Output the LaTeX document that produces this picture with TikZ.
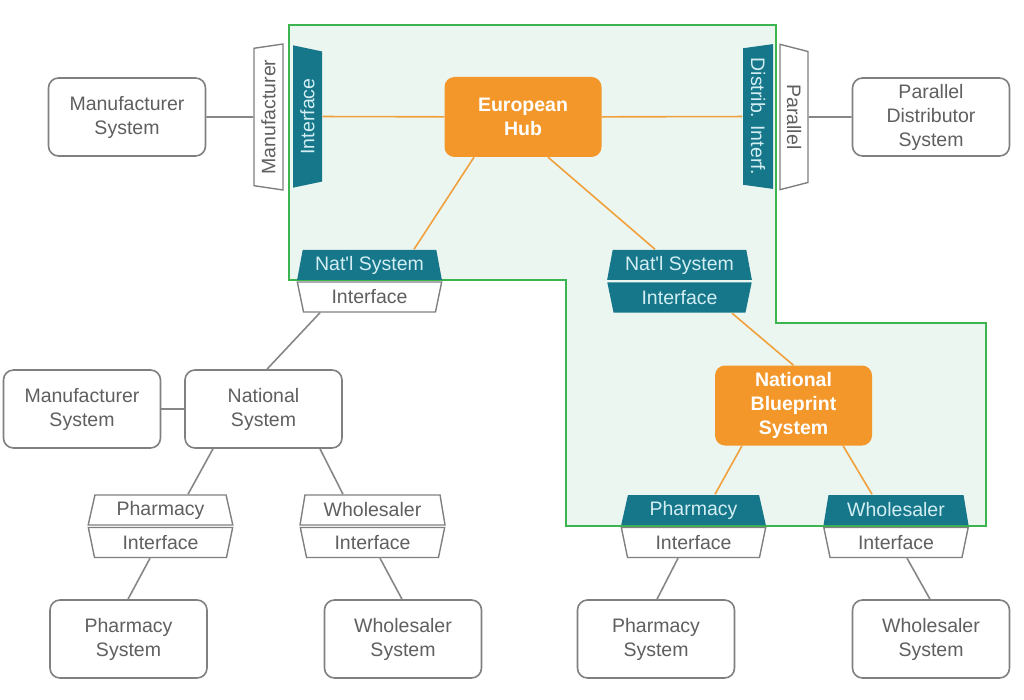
\documentclass[tikz,border=0pt]{standalone}
\usepackage{fontspec}
\setmainfont{Liberation Sans}
\usetikzlibrary{shapes.geometric}
\definecolor{boxgray}{RGB}{128,128,128}
\definecolor{txtgray}{RGB}{95,95,95}
\definecolor{linegray}{RGB}{135,135,135}
\definecolor{hubor}{RGB}{243,151,42}
\definecolor{lineor}{RGB}{240,160,60}
\definecolor{tealplug}{RGB}{22,118,138}
\definecolor{tealtext}{RGB}{210,238,242}
\definecolor{zonegreen}{RGB}{60,180,80}
\definecolor{zonefill}{RGB}{236,246,240}

\begin{document}
\begin{tikzpicture}[x=1pt, y=-1pt, every node/.style={align=center, font=\fontsize{19.5}{24}\selectfont},
  sys/.style={draw=boxgray, line width=1.6pt, rounded corners=10pt, fill=white, text=txtgray, minimum width=157pt, minimum height=78pt},
  hubbox/.style={fill=hubor, rounded corners=10pt, text=white, font=\fontsize{19.5}{24}\selectfont\bfseries, minimum width=157pt, minimum height=80pt},
  plug/.style={trapezium, trapezium stretches=true, trapezium angle=76, minimum width=145pt, minimum height=30pt, inner sep=0pt, line width=1.4pt},
  wplug/.style={plug, draw=boxgray, fill=white, text=txtgray},
  tplug/.style={plug, fill=tealplug, text=tealtext},
  flipped/.style={shape border rotate=180},
  gl/.style={draw=linegray, line width=1.6pt},
  ol/.style={draw=lineor, line width=1.6pt}]
  \useasboundingbox (0,0) rectangle (1024,700);
  \draw[zonegreen, line width=1.8pt, fill=zonefill] (289,25) -- (776,25) -- (776,323) -- (986,323) -- (986,526) -- (566,526) -- (566,280) -- (289,280) -- cycle;

  \node[sys] (mfr) at (127,117) {Manufacturer\\System};
  \node[wplug, rotate=90, minimum width=146pt, minimum height=29pt] (mfrp) at (268.5,117) {Manufacturer};
  \node[tplug, flipped, rotate=90, minimum width=143pt, minimum height=29pt] (mfri) at (307.5,116.5) {Interface};
  \node[hubbox] (hub) at (523,117) {European\\Hub};
  \node[tplug, flipped, rotate=-90, minimum width=145pt, minimum height=30pt] (pdi) at (758,116.5) {Distrib. Interf.};
  \node[wplug, rotate=-90, minimum width=146pt, minimum height=28pt] (pdp) at (794,117) {Parallel};
  \node[sys] (pds) at (931,117) {Parallel\\Distributor\\System};

  \node[tplug] (natl) at (369.5,265) {Nat\textquotesingle l System};
  \node[wplug, flipped] (natli) at (369.5,297) {Interface};
  \node[tplug] (natr) at (679.5,265) {Nat\textquotesingle l System};
  \node[tplug, flipped] (natri) at (679.5,297.5) {Interface};

  \node[sys] (mfr2) at (82,409) {Manufacturer\\System};
  \node[sys] (nat) at (263.5,409) {National\\System};
  \node[hubbox, minimum height=80pt] (nbs) at (793.5,405.5) {National\\Blueprint\\System};

  \node[wplug] (ph1) at (160.5,510) {Pharmacy};
  \node[wplug, flipped] (ph1i) at (160.5,542.5) {Interface};
  \node[wplug] (wh1) at (372.5,510) {Wholesaler};
  \node[wplug, flipped] (wh1i) at (372.5,542.5) {Interface};
  \node[tplug] (ph2) at (693.5,510) {Pharmacy};
  \node[wplug, flipped] (ph2i) at (693.5,542.5) {Interface};
  \node[tplug] (wh2) at (896,510) {Wholesaler};
  \node[wplug, flipped] (wh2i) at (896,542.5) {Interface};

  \node[sys] (phs1) at (128.5,639) {Pharmacy\\System};
  \node[sys] (whs1) at (403,639) {Wholesaler\\System};
  \node[sys] (phs2) at (656,639) {Pharmacy\\System};
  \node[sys] (whs2) at (931,639) {Wholesaler\\System};

  \draw[gl] (mfr) -- (mfrp);
  \draw[ol] (mfri) -- (hub);
  \draw[ol] (hub) -- (pdi);
  \draw[gl] (pdp) -- (pds);
  \draw[ol] ([xshift=-49pt]hub.south) -- ([xshift=44.5pt]natl.north);
  \draw[ol] ([xshift=25pt]hub.south) -- ([xshift=-24.5pt]natr.north);
  \draw[ol] ([xshift=52.5pt]natri.south) -- (nbs.north);
  \draw[ol] ([xshift=-51.5pt]nbs.south) -- ([xshift=21.5pt]ph2.north);
  \draw[ol] ([xshift=49.5pt]nbs.south) -- ([xshift=-24pt]wh2.north);
  \draw[gl] ([xshift=-15.5pt]ph2i.south) -- ([xshift=1pt]phs2.north);
  \draw[gl] ([xshift=11pt]wh2i.south) -- ([xshift=-1pt]whs2.north);
  \draw[gl] ([xshift=-49.5pt]natli.south) -- ([xshift=3.5pt]nat.north);
  \draw[gl] (mfr2) -- (nat);
  \draw[gl] ([xshift=-50.5pt]nat.south) -- ([xshift=27.5pt]ph1.north);
  \draw[gl] ([xshift=56.5pt]nat.south) -- ([xshift=-29.5pt]wh1.north);
  \draw[gl] ([xshift=-10.5pt]ph1i.south) -- ([xshift=-0.5pt]phs1.north);
  \draw[gl] ([xshift=7.5pt]wh1i.south) -- ([xshift=-1pt]whs1.north);
\end{tikzpicture}
\end{document}
